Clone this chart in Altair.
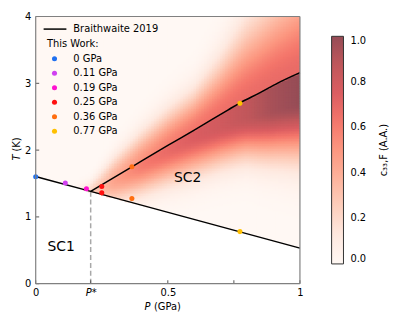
import altair as alt
import numpy as np
import pandas as pd

# ---------------- data ----------------
# Braithwaite 2019 phase boundaries
low_P = [0.0, 0.208, 1.0]
low_T = [1.604, 1.382, 0.533]
up_P = [0.208, 0.364, 0.5, 0.6, 0.727, 0.77, 0.851, 0.914, 1.0]
up_T = [1.382, 1.75, 2.07, 2.30, 2.60, 2.70, 2.864, 3.0, 3.16]
P_star = 0.208

# This Work points
pt_label = ["0 GPa", "0.11 GPa", "0.19 GPa", "0.25 GPa", "0.25 GPa",
            "0.36 GPa", "0.36 GPa", "0.77 GPa", "0.77 GPa"]
pt_P = [0.0, 0.112, 0.192, 0.25, 0.25, 0.364, 0.364, 0.773, 0.773]
pt_T = [1.60, 1.507, 1.42, 1.456, 1.36, 1.75, 1.274, 2.70, 0.78]
series_labels = ["0 GPa", "0.11 GPa", "0.19 GPa", "0.25 GPa", "0.36 GPa", "0.77 GPa"]
series_colors = ["#1f70f0", "#d040f0", "#ff12d0", "#ff1010", "#ff6e10", "#ffc000"]

# c33,F intensity profile read along P (relative to the upper boundary)
prof_P = [0.15, 0.208, 0.3, 0.4, 0.5, 0.6, 0.7, 0.8, 0.9, 1.0]
amp_above = [0.0, 0.20, 0.38, 0.50, 0.58, 0.62, 0.65, 0.67, 0.68, 0.68]
wid_above = [0.10, 0.15, 0.30, 0.40, 0.47, 0.52, 0.72, 1.00, 1.15, 1.30]
amp_below = [0.0, 0.25, 0.45, 0.60, 0.68, 0.75, 0.80, 0.87, 0.95, 1.00]
plat_below = [0.0, 0.0, 0.03, 0.05, 0.07, 0.10, 0.17, 0.25, 0.35, 0.42]
wid_below = [0.10, 0.22, 0.35, 0.40, 0.45, 0.50, 0.52, 0.55, 0.65, 0.75]

# Reds colormap at alpha 0.7 on white
reds_a07 = ["#fff8f4", "#fee9e0", "#fdcfbd", "#fdb39c", "#fc9780",
            "#f4766b", "#db5d61", "#c0575b", "#954c56"]
cbar_ticks = [0.0, 0.2, 0.4, 0.6, 0.8, 1.0]
cbar_title = "c₃₃,F (A.A.)"
x_ticks = [0.0, 0.208, 0.5, 0.75, 1.0]
y_ticks = [0, 1, 2, 3, 4]

# ---------------- heat-map cells ----------------
dP, dT = 0.01, 0.025
Pc = np.arange(dP / 2, 1.0, dP)
Tc = np.arange(dT / 2, 4.0, dT)
PP, TT = np.meshgrid(Pc, Tc)
PP = PP.ravel(); TT = TT.ravel()
m = TT > np.interp(PP, low_P, low_T)
PP, TT = PP[m], TT[m]
d = TT - np.interp(PP, up_P, up_T)
au = np.interp(PP, prof_P, amp_above)
su = np.interp(PP, prof_P, wid_above)
ad = np.interp(PP, prof_P, amp_below)
pl = np.interp(PP, prof_P, plat_below)
sd = np.interp(PP, prof_P, wid_below)
val = np.where(d >= 0, au * np.exp(-(d / su) ** 2),
               ad * np.exp(-(np.maximum(0, -d - pl) / sd) ** 2))
heat = pd.DataFrame({
    "p0": np.round(PP - 0.0078, 4), "p1": np.round(np.minimum(PP + 0.0078, 1.0), 4),
    "t0": np.round(TT - 0.021, 4), "t1": np.round(np.minimum(TT + 0.021, 4.0), 4),
    "v": np.round(np.clip(val, 0, 1), 3),
})

W, H = 267, 270
def px_to_P(px):
    return px / W
def px_to_T(py):
    return 4.0 - py * 4.0 / H

xs = alt.Scale(domain=[0, 1], nice=False, zero=False)
ys = alt.Scale(domain=[0, 4], nice=False, zero=False)
x_axis = alt.Axis(values=x_ticks, title=None, ticks=False, domain=False, grid=False,
                  labelExpr="datum.value==0?'0':datum.value==1?'1':datum.value==0.5?'0.5':abs(datum.value-0.208)<0.001?'P*':''",
                  labelFontStyle={"condition": {"test": "abs(datum.value-0.208)<0.001", "value": "italic"}, "value": "normal"},
                  labelPadding=4, labelFontSize=10, labelColor="#000", labelFlush=False)
y_axis = alt.Axis(values=y_ticks, title=None, ticks=False, domain=False, grid=False,
                  labelPadding=5, labelFontSize=10, labelColor="#000")

def X(f):
    return alt.X(f, scale=xs, axis=x_axis)
def Y(f):
    return alt.Y(f, scale=ys, axis=y_axis)

heat_layer = alt.Chart(heat).mark_rect(clip=True).encode(
    x=X("p0:Q"), x2="p1", y=Y("t0:Q"), y2="t1",
    color=alt.Color("v:Q", scale=alt.Scale(domain=[0, 1], range=reds_a07, interpolate="rgb"),
                    legend=alt.Legend(orient="none", legendX=299, legendY=20,
                                      direction="vertical", gradientLength=230,
                                      gradientThickness=12, values=cbar_ticks, format=".1f",
                                      title=None, labelFontSize=10, labelOffset=7, labelColor="#000",
                                      gradientStrokeColor="#333", gradientStrokeWidth=1)),
)

lines = pd.DataFrame({
    "P": low_P + up_P, "T": low_T + up_T,
    "s": ["low"] * len(low_P) + ["up"] * len(up_P),
    "o": list(range(len(low_P))) + list(range(len(up_P))),
})
line_layer = alt.Chart(lines).mark_line(color="black", strokeWidth=1.5, interpolate="monotone").encode(
    x=X("P:Q"), y=Y("T:Q"), detail="s:N", order="o:Q")

dash = pd.DataFrame({"P": [P_star], "T0": [0.0], "T1": [low_T[1]]})
dash_layer = alt.Chart(dash).mark_rule(color="#a8a8a8", strokeWidth=1.5, strokeDash=[5, 3]).encode(
    x=X("P:Q"), y=Y("T0:Q"), y2="T1")

fill_scale = alt.Scale(domain=series_labels, range=series_colors)
pts = pd.DataFrame({"P": pt_P, "T": pt_T, "lab": pt_label})
pt_layer = alt.Chart(pts).mark_circle(size=26, opacity=1).encode(
    x=X("P:Q"), y=Y("T:Q"), fill=alt.Fill("lab:N", scale=fill_scale, legend=None))

phase = pd.DataFrame({"P": [0.096, 0.575], "T": [0.55, 1.58], "txt": ["SC1", "SC2"]})
phase_layer = alt.Chart(phase).mark_text(fontSize=14, color="black").encode(
    x=X("P:Q"), y=Y("T:Q"), text="txt:N")

# ticks (inward) and frame
xt = alt.Chart(pd.DataFrame({"v": x_ticks})).mark_rule(color="#555", strokeWidth=1).encode(
    x=X("v:Q"), y=alt.value(H), y2=alt.value(H - 3.5))
yt = alt.Chart(pd.DataFrame({"v": y_ticks})).mark_rule(color="#555", strokeWidth=1).encode(
    y=Y("v:Q"), x=alt.value(0), x2=alt.value(3.5))
frame_df = pd.DataFrame({"x": [0, 0, 0, 1], "x2": [1, 1, 0, 1], "y": [4, 0, 0, 0], "y2": [4, 0, 4, 4]})
frame = alt.Chart(frame_df).mark_rule(color="#808080", strokeWidth=1.2).encode(
    x=X("x:Q"), x2="x2", y=Y("y:Q"), y2="y2")

# axis titles with italic symbols
xtitle1 = alt.Chart(pd.DataFrame({"t": ["P"]})).mark_text(align="right", baseline="middle", fontSize=10,
                                                         fontStyle="italic").encode(
    x=alt.value(116), y=alt.value(H + 24), text="t:N")
xtitle2 = alt.Chart(pd.DataFrame({"t": ["(GPa)"]})).mark_text(align="left", baseline="middle", fontSize=10).encode(
    x=alt.value(119.5), y=alt.value(H + 24), text="t:N")
ytitle1 = alt.Chart(pd.DataFrame({"t": ["T"]})).mark_text(align="right", baseline="middle", fontSize=10,
                                                         fontStyle="italic", angle=270).encode(
    x=alt.value(-19.3), y=alt.value(139.5), text="t:N")
ytitle2 = alt.Chart(pd.DataFrame({"t": ["(K)"]})).mark_text(align="left", baseline="middle", fontSize=10,
                                                           angle=270).encode(
    x=alt.value(-19.3), y=alt.value(136.5), text="t:N")
cb_title = alt.Chart(pd.DataFrame({"t": [cbar_title]})).mark_text(align="center", baseline="middle",
                                                                  fontSize=10, angle=270).encode(
    x=alt.value(351.5), y=alt.value(135), text="t:N")

# in-plot legend
leg_line = alt.Chart(pd.DataFrame({"t": ["Braithwaite 2019"]})).mark_rule(color="black", strokeWidth=1.5).encode(
    x=alt.value(8), x2=alt.value(31), y=alt.value(12.7))
leg_line_txt = alt.Chart(pd.DataFrame({"t": ["Braithwaite 2019"]})).mark_text(align="left", baseline="middle",
                                                                              fontSize=10).encode(
    x=alt.value(38), y=alt.value(12.7), text="t:N")
leg_head = alt.Chart(pd.DataFrame({"t": ["This Work:"]})).mark_text(align="left", baseline="middle",
                                                                    fontSize=10).encode(
    x=alt.value(11.3), y=alt.value(28.3), text="t:N")
leg_df = pd.DataFrame({
    "lab": series_labels,
    "yy": [px_to_T(42.7 + i * 14.65) for i in range(len(series_labels))],
    "xd": [px_to_P(19)] * len(series_labels),
    "xt": [px_to_P(38)] * len(series_labels),
})
leg_dots = alt.Chart(leg_df).mark_circle(size=26, opacity=1).encode(
    x=X("xd:Q"), y=Y("yy:Q"), fill=alt.Fill("lab:N", scale=fill_scale, legend=None))
leg_txt = alt.Chart(leg_df).mark_text(align="left", baseline="middle", fontSize=10).encode(
    x=X("xt:Q"), y=Y("yy:Q"), text="lab:N")

chart = alt.layer(
    heat_layer, dash_layer, line_layer, pt_layer, phase_layer, xt, yt,
    xtitle1, xtitle2, ytitle1, ytitle2, cb_title,
    leg_line, leg_line_txt, leg_head, leg_dots, leg_txt, frame,
).properties(
    width=W, height=H,
    autosize=alt.AutoSizeParams(type="none"),
    padding={"left": 28, "top": 7, "right": 90, "bottom": 30},
).configure(font="DejaVu Sans").configure_view(stroke=None)

chart.save("out.html", embed_options={"renderer": "svg", "actions": False})
